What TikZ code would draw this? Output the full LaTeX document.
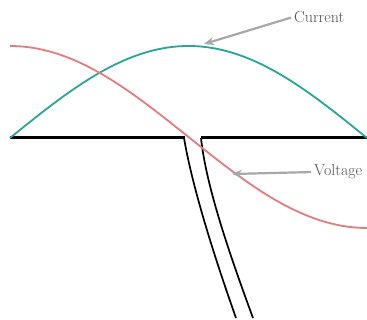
\documentclass[tikz,border=0pt]{standalone}
\usepackage{tikz}
\usetikzlibrary{arrows.meta, positioning}
\definecolor{myteal}{RGB}{38,166,154}
\definecolor{mypink}{RGB}{229,124,124}
\definecolor{mygray}{RGB}{168,168,168}
\definecolor{mytext}{RGB}{80,80,80}
\tikzset{
  wave/.style={line width=1.8pt},
  ground/.style={line width=3pt, black},
  stem/.style={line width=1.7pt, black},
  tag/.style={font=\fontsize{16}{18}\selectfont, text=mytext, inner sep=1pt, anchor=west},
  pointer/.style={-{Stealth[length=10pt,width=8pt]}, line width=2.2pt, color=mygray, shorten <=2pt}
}

\begin{document}
\begin{tikzpicture}[x=1pt, y=-1pt]
  \useasboundingbox (0,0) rectangle (367,320);
  % ground line with the gap
  \draw[ground] (10,138) -- (185,138);
  \draw[ground] (201,138) -- (367,138);
  % the two legs going down
  \draw[stem] (184,138) .. controls (192,185) and (212,250) .. (236,318);
  \draw[stem] (201,138) .. controls (206,185) and (228,250) .. (253,318);
  % current (sine) and voltage (cosine)
  \draw[wave, myteal] plot[domain=10:367, samples=90] (\x, {138-92*sin((\x-10)/357*180)});
  \draw[wave, mypink] plot[domain=10:367, samples=90] (\x, {137-91*cos((\x-10)/357*180)});
  % labels
  \node[tag] (current) at (293,17) {Current};
  \node[tag] (voltage) at (313,172) {Voltage};
  \coordinate (peak) at (204,44);
  \coordinate (cross) at (232,174);
  \draw[pointer] (current.west) -- (peak);
  \draw[pointer] (voltage.west) -- (cross);
\end{tikzpicture}
\end{document}
